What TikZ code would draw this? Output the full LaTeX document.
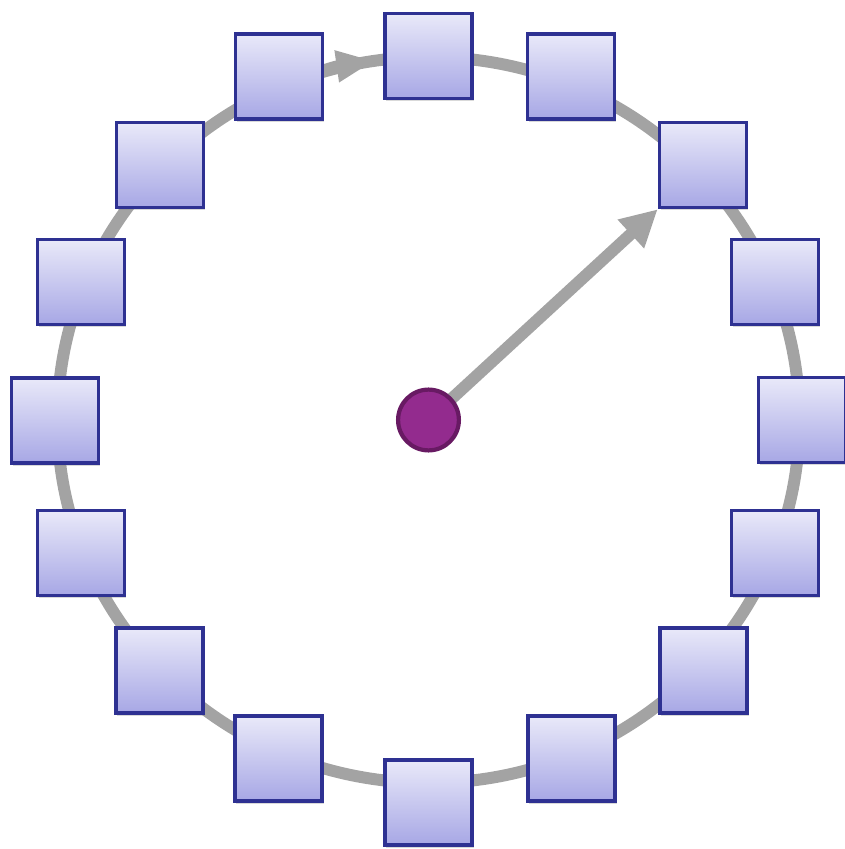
\documentclass[tikz,border=0pt]{standalone}
\usetikzlibrary{arrows.meta,shadows}
\definecolor{ringgray}{RGB}{163,163,163}
\definecolor{boxtop}{RGB}{233,233,249}
\definecolor{boxbot}{RGB}{167,167,229}
\definecolor{boxline}{RGB}{46,49,146}
\definecolor{hubfill}{RGB}{147,43,142}
\definecolor{hubline}{RGB}{104,26,99}

\begin{document}
\begin{tikzpicture}[x=0.025cm,y=0.025cm,
  ring/.style={draw=ringgray,line width=8.5pt},
  slot/.style={draw=boxline,line width=2.4pt,top color=boxtop,bottom color=boxbot,minimum width=2.18cm,minimum height=2.13cm,inner sep=0pt,drop shadow={shadow xshift=1pt,shadow yshift=-2pt,opacity=0.3}},
  hub/.style={circle,draw=hubline,fill=hubfill,line width=3pt,minimum size=1.52cm,inner sep=0pt}]
\useasboundingbox (-428.5,-429) rectangle (416.5,420);
\coordinate (ctr) at (0,0);
% ring with its arrow
\draw[ring] (ctr) ellipse[x radius=371,y radius=363];
\draw[ring,-{Triangle[length=27pt,width=21pt]}] (118:371 and 363) arc[start angle=118,end angle=98.4,x radius=371,y radius=363];
% sixteen slots
\foreach \n/\x/\y in {0/0/364, 1/142.5/343.5, 2/274.5/255, 3/346.5/138,
    4/373.5/0, 5/346.5/-133, 6/275/-250.5, 7/143/-338.5,
    8/0/-382.5, 9/-150/-338.5, 10/-269/-250.5, 11/-347.5/-133,
    12/-373.5/-0.5, 13/-347.5/138, 14/-268.5/255, 15/-149.5/343.5}
  \node[slot] (sq\n) at (\x,\y) {};
% pointer
\draw[ring,-{Triangle[length=26pt,width=26pt]}] (ctr) -- (sq2.south west);
\node[hub] (hub) at (ctr) {};
\end{tikzpicture}
\end{document}
